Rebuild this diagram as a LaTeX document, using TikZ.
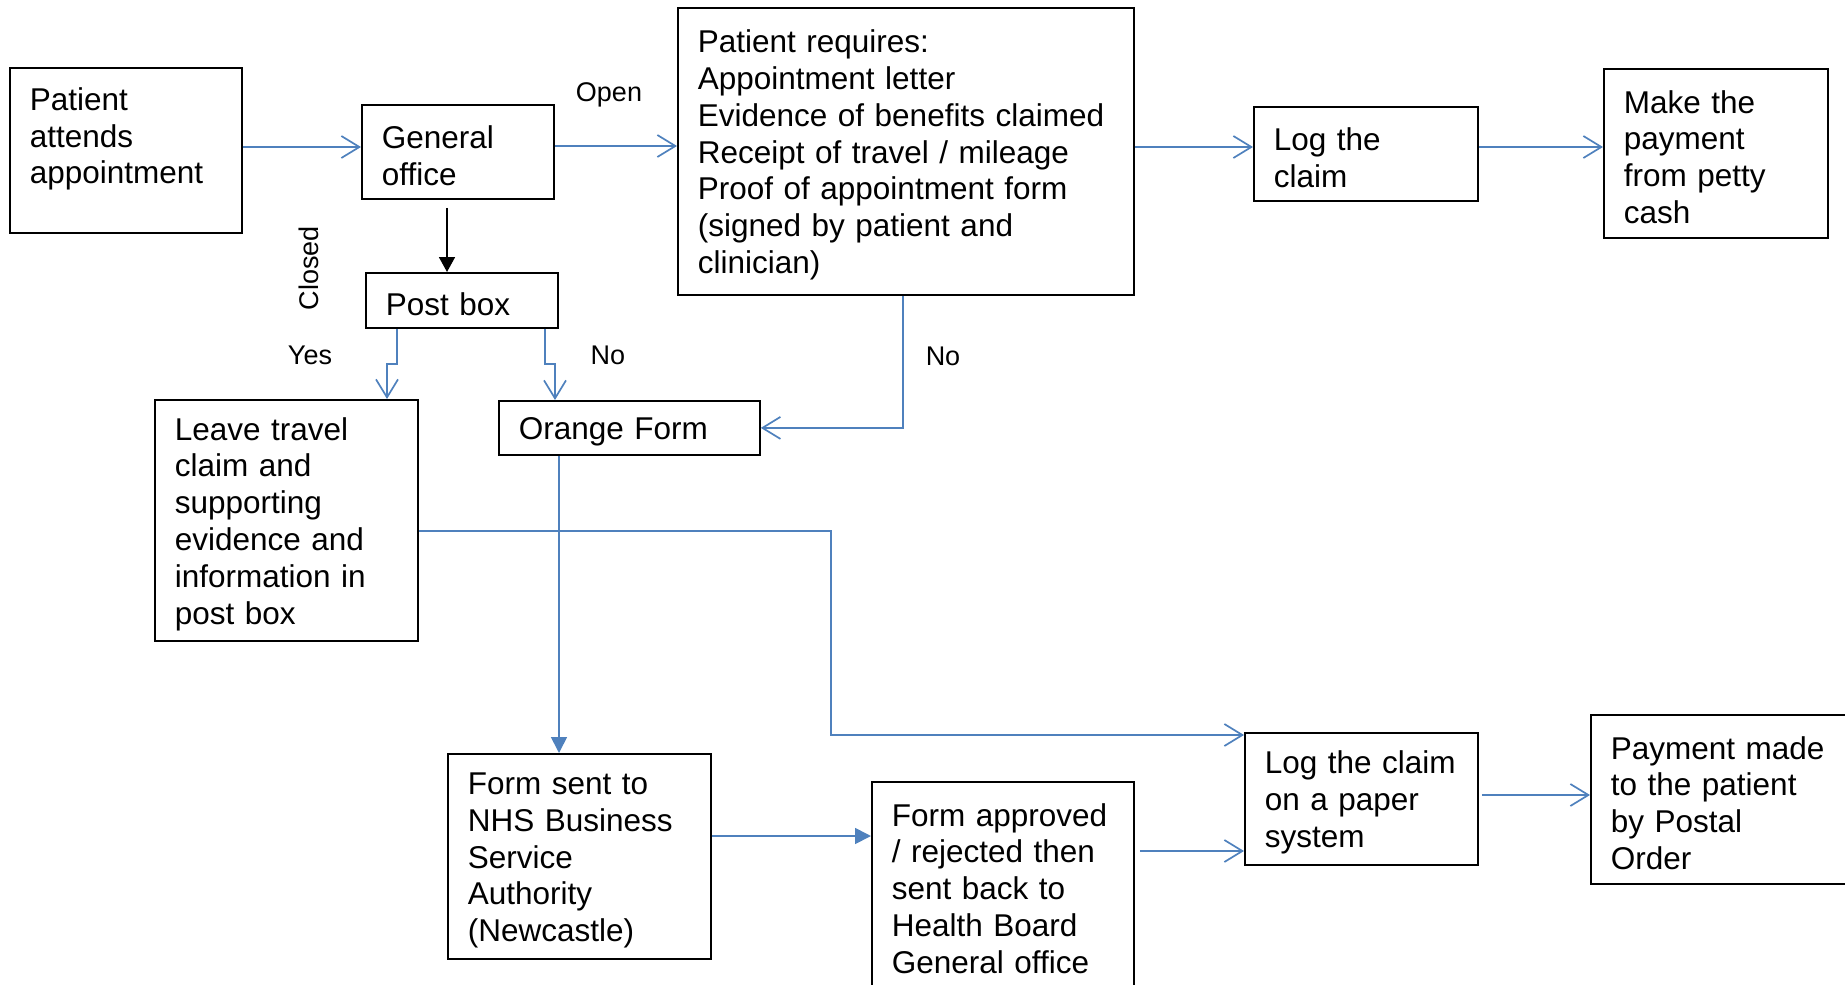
\documentclass[tikz,border=0pt]{standalone}
\usepackage{fontspec}
\setmainfont{Liberation Sans}
\usetikzlibrary{arrows.meta}
\definecolor{flowblue}{RGB}{79,129,189}

\begin{document}
\begin{tikzpicture}[x=1pt,y=-1pt,
  box/.style={draw,line width=1.8pt,anchor=north west,align=left,inner xsep=20pt,inner ysep=0pt,font=\fontsize{31.5}{36.8}\selectfont,execute at begin node={\rule{0pt}{30pt}}},
  lbl/.style={font=\fontsize{27}{31}\selectfont,inner sep=0pt},
  flow/.style={draw=flowblue,line width=1.7pt,-{Straight Barb[length=18pt,width=22pt]}},
  tipflow/.style={draw=flowblue,line width=1.7pt,-{Triangle[length=16pt,width=16pt]}},
  blackflow/.style={draw=black,line width=1.7pt,-{Triangle[length=15pt,width=16pt]}}]
  \useasboundingbox (0,0) rectangle (1845,985);

  \node[box,minimum width=232pt,minimum height=165pt,text width=192pt] (pat) at (9,67) {Patient\\attends\\appointment\\\mbox{}};
  \node[box,minimum width=192pt,minimum height=94pt,text width=152pt] (gen) at (361,104) {General\\office};
  \node[box,minimum width=456pt,minimum height=287pt,text width=416pt] (req) at (677,7) {Patient requires:\\Appointment letter\\Evidence of benefits claimed\\Receipt of travel / mileage\\Proof of appointment form\\(signed by patient and\\clinician)};
  \node[box,minimum width=224pt,minimum height=94pt,text width=184pt] (log) at (1253,106) {Log the\\claim};
  \node[box,minimum width=224pt,minimum height=169pt,text width=184pt] (make) at (1603,68) {Make the\\payment\\from petty\\cash};
  \node[box,minimum width=192pt,minimum height=55pt,text width=152pt] (post) at (365,272) {Post box};
  \node[box,minimum width=263pt,minimum height=241pt,text width=223pt] (leave) at (154,399) {Leave travel\\claim and\\supporting\\evidence and\\information in\\post box};
  \node[box,minimum width=261pt,minimum height=54pt,text width=221pt] (orange) at (498,400) {Orange Form};
  \node[box,minimum width=263pt,minimum height=205pt,text width=223pt] (nhs) at (447,753) {Form sent to\\NHS Business\\Service\\Authority\\(Newcastle)};
  \node[box,minimum width=262pt,minimum height=206pt,text width=222pt] (appr) at (871,781) {Form approved\\/ rejected then\\sent back to\\Health Board\\General office};
  \node[box,minimum width=233pt,minimum height=132pt,text width=193pt] (paper) at (1244,732) {\mbox{Log the claim}\\on a paper\\system};
  \node[box,minimum width=270pt,minimum height=169pt,text width=230pt] (pay) at (1590,714) {Payment made\\to the patient\\by Postal\\Order};

  \node[lbl] (open) at (609,95) {Open};
  \node[lbl,rotate=90] (closed) at (309,268) {Closed};
  \node[lbl] (yes) at (310,355) {Yes};
  \node[lbl] (no1) at (608,355) {No};
  \node[lbl] (no2) at (943,356) {No};

  \draw[flow] (pat.east |- 0,147) -- (gen.west |- 0,147);
  \draw[flow] (gen.east |- 0,146) -- (req.west |- 0,146);
  \draw[flow] (req.east |- 0,147) -- (log.west |- 0,147);
  \draw[flow] (log.east |- 0,147) -- (make.west |- 0,147);
  \draw[blackflow,shorten <=8pt] (gen.south -| 447,0) -- (post.north -| 447,0);
  \draw[flow] (post.south -| 397,0) -- (397,364) -- (387,364) -- (leave.north -| 387,0);
  \draw[flow] (post.south -| 545,0) -- (545,364) -- (555,364) -- (orange.north -| 555,0);
  \draw[flow] (req.south -| 903,0) |- (orange.east);
  \draw[tipflow] (orange.south -| 559,0) -- (nhs.north -| 559,0);
  \draw[flow] (leave.east |- 0,531) -| (831,735) -- (paper.west |- 0,735);
  \draw[tipflow] (nhs.east |- 0,836) -- (appr.west |- 0,836);
  \draw[flow,shorten <=5pt] (appr.east |- 0,851) -- (paper.west |- 0,851);
  \draw[flow,shorten <=3pt] (paper.east |- 0,795) -- (pay.west |- 0,795);
\end{tikzpicture}
\end{document}
